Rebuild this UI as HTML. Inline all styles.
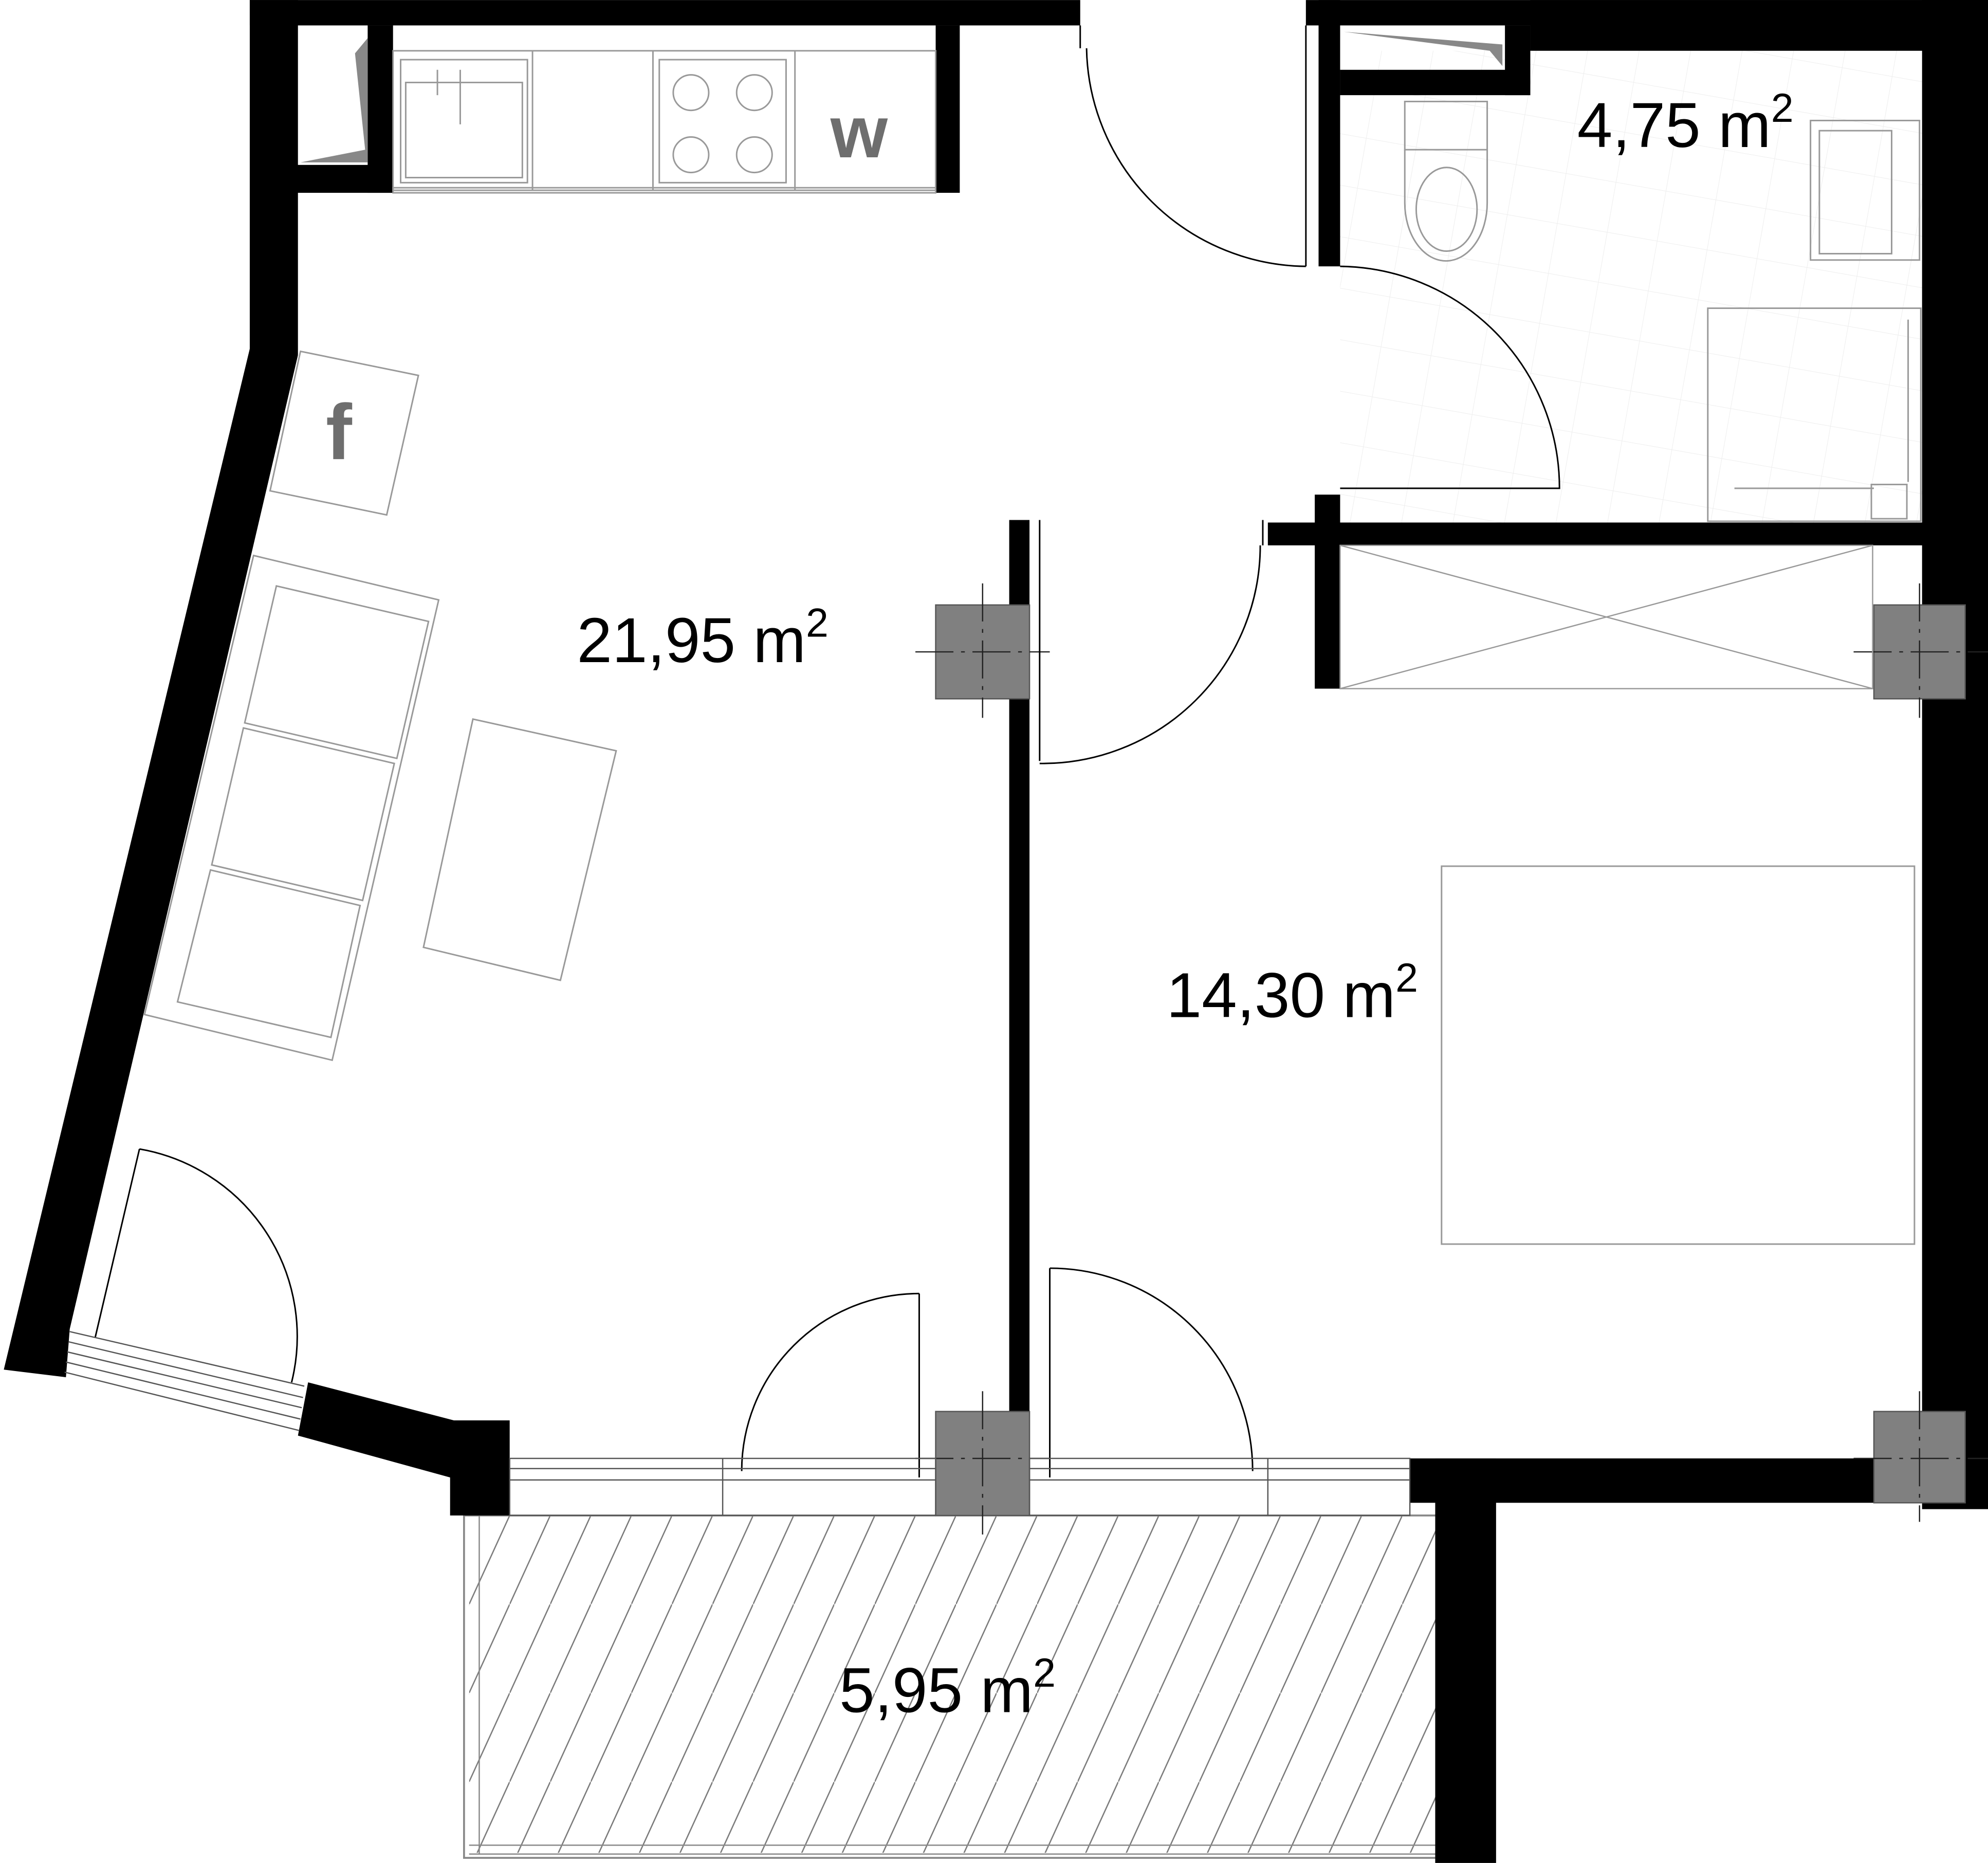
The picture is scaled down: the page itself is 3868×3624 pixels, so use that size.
<!DOCTYPE html>
<html><head><meta charset="utf-8"><style>
html,body{margin:0;padding:0;background:#fff;}
svg{display:block;}
text{font-family:"Liberation Sans",sans-serif;fill:#000;}
</style></head><body>
<svg width="3868" height="3624" viewBox="0 0 1568 1469" xmlns="http://www.w3.org/2000/svg">
<defs>
<pattern id="hatch" patternUnits="userSpaceOnUse" width="32" height="70" patternTransform="translate(370,1195)">
<line x1="0" y1="70" x2="32" y2="0" stroke="#777" stroke-width="1"/>
</pattern>
<pattern id="tile" patternUnits="userSpaceOnUse" width="40" height="40" patternTransform="rotate(10)">
<path d="M0 0H40M0 0V40" stroke="#eee" stroke-width="0.8" fill="none"/>
</pattern>
</defs>
<rect width="1568" height="1469" fill="#fff"/>
<rect x="1057" y="40" width="460" height="372" fill="url(#tile)"/>
<rect x="370" y="1195" width="764" height="266" fill="url(#hatch)"/>
<rect x="366" y="1195" width="768" height="270" fill="none" stroke="#888" stroke-width="1.5"/>
<line x1="378" y1="1195" x2="378" y2="1462" stroke="#888"/>
<line x1="370" y1="1462" x2="1134" y2="1462" stroke="#888"/>
<line x1="370" y1="1455" x2="1134" y2="1455" stroke="#888"/>
<g fill="#000">
<rect x="197" y="0" width="655" height="20"/>
<rect x="197" y="0" width="38" height="280"/>
<rect x="215" y="20" width="18" height="132"/>
<rect x="215" y="130" width="95" height="22"/>
<rect x="290" y="20" width="20" height="132"/>
<rect x="738" y="20" width="19" height="132"/>
<polygon points="197,275 235,280 55,1048 52,1086 3,1080"/>
<polygon points="243,1090 358,1120 402,1120 402,1195 355,1195 355,1165 235,1132"/>
<rect x="1030" y="0" width="538" height="20"/>
<rect x="1207" y="0" width="361" height="40"/>
<rect x="1516" y="0" width="52" height="1190"/>
<rect x="1040" y="0" width="17" height="210"/>
<rect x="1057" y="55" width="150" height="20"/>
<rect x="1187" y="20" width="20" height="55"/>
<rect x="1000" y="412" width="520" height="18"/>
<rect x="1037" y="390" width="20" height="153"/>
<rect x="796" y="410" width="16" height="705"/>
<rect x="1112" y="1150" width="456" height="35"/>
<rect x="1132" y="1150" width="48" height="319"/>
</g>
<polygon points="237,128 288,118 280,42 290,30 290,128" fill="#888"/>
<polygon points="1060,25 1185,35 1185,52 1175,40" fill="#888"/>
<g fill="#808080" stroke="#555">
<rect x="738" y="477" width="74" height="74"/>
<rect x="1478" y="477" width="72" height="74"/>
<rect x="738" y="1113" width="74" height="82"/>
<rect x="1478" y="1113" width="72" height="72"/>
</g>
<g stroke="#222" stroke-width="1" stroke-dasharray="30,6,3,6">
<line x1="722" y1="514" x2="828" y2="514"/><line x1="775" y1="460" x2="775" y2="566"/>
<line x1="1462" y1="514" x2="1568" y2="514"/><line x1="1514" y1="460" x2="1514" y2="566"/>
<line x1="722" y1="1150" x2="828" y2="1150"/><line x1="775" y1="1097" x2="775" y2="1210"/>
<line x1="1462" y1="1150" x2="1568" y2="1150"/><line x1="1514" y1="1097" x2="1514" y2="1200"/>
</g>
<g fill="none" stroke="#999" stroke-width="1.2">
<rect x="310" y="40" width="428" height="110"/>
<rect x="310" y="148" width="428" height="4"/>
<line x1="420" y1="40" x2="420" y2="150"/>
<line x1="515" y1="40" x2="515" y2="150"/>
<line x1="627" y1="40" x2="627" y2="150"/>
<rect x="316" y="47" width="100" height="97"/>
<rect x="320" y="65" width="92" height="75"/>
<rect x="520" y="47" width="100" height="97"/>
<circle cx="545" cy="73" r="14"/><circle cx="595" cy="73" r="14"/>
<circle cx="545" cy="122" r="14"/><circle cx="595" cy="122" r="14"/>
<path d="M345 55V75M363 55V98"/>
</g>
<text x="655" y="124" font-size="58" font-weight="bold" style="fill:#6e6e6e">w</text>
<polygon points="237,277 330,296 305,406 213,387" fill="none" stroke="#999" stroke-width="1.2"/>
<text x="257" y="362" font-size="62" font-weight="bold" style="fill:#6e6e6e">f</text>
<g fill="none" stroke="#999" stroke-width="1.2">
<polygon points="200,438 346,473 262,836 114,800"/>
<polygon points="218,462 338,490 313,598 193,570"/>
<polygon points="192,574 311,602 286,710 167,682"/>
<polygon points="166,686 284,714 261,818 140,790"/>
<polygon points="373,567 486,592 442,773 334,747"/>
</g>
<rect x="1137" y="683" width="373" height="298" fill="none" stroke="#999" stroke-width="1.2"/>
<g fill="none" stroke="#999" stroke-width="1">
<rect x="1057" y="430" width="420" height="113"/>
<line x1="1057" y1="430" x2="1477" y2="543"/><line x1="1057" y1="543" x2="1477" y2="430"/>
</g>
<g fill="none" stroke="#999" stroke-width="1.2">
<rect x="1108" y="80" width="65" height="38"/>
<path d="M1108 118V160A32 45 0 0 0 1173 160V118"/>
<ellipse cx="1141" cy="165" rx="24" ry="33"/>
<rect x="1428" y="95" width="86" height="110"/>
<rect x="1435" y="103" width="57" height="97"/>
<rect x="1347" y="243" width="168" height="168"/>
<path d="M1368 385H1478M1505 252V380"/>
<rect x="1476" y="382" width="28" height="27"/>
</g>
<g fill="none" stroke="#000" stroke-width="1.2">
<line x1="852" y1="20" x2="852" y2="38"/>
<path d="M857 38A175 175 0 0 0 1030 210"/><line x1="1030" y1="20" x2="1030" y2="210"/>
<path d="M1057 210A175 175 0 0 1 1230 385H1057"/>
<line x1="820" y1="410" x2="820" y2="600"/><path d="M820 602A172 172 0 0 0 994 430"/><line x1="996" y1="410" x2="996" y2="430"/>
<line x1="725" y1="1020" x2="725" y2="1165"/><path d="M725 1020A140 140 0 0 0 585 1160"/>
<line x1="828" y1="1000" x2="828" y2="1165"/><path d="M828 1000A160 160 0 0 1 988 1160"/>
<line x1="110" y1="906" x2="75" y2="1055"/><path d="M110 906A150 150 0 0 1 230 1090"/>
</g>
<g fill="none" stroke="#555" stroke-width="1">
<rect x="402" y="1150" width="336" height="45"/>
<line x1="402" y1="1158" x2="738" y2="1158"/><line x1="402" y1="1167" x2="738" y2="1167"/>
<line x1="570" y1="1150" x2="570" y2="1195"/>
<rect x="812" y="1150" width="300" height="45"/>
<line x1="812" y1="1158" x2="1112" y2="1158"/><line x1="812" y1="1167" x2="1112" y2="1167"/>
<line x1="1000" y1="1150" x2="1000" y2="1195"/>
<line x1="55" y1="1050" x2="240" y2="1093"/><line x1="54" y1="1058" x2="239" y2="1102"/>
<line x1="53" y1="1066" x2="238" y2="1110"/><line x1="52" y1="1074" x2="237" y2="1119"/>
<line x1="51" y1="1082" x2="236" y2="1128"/>
</g>
<text x="455" y="522" font-size="50">21,95 m<tspan font-size="32" dy="-20">2</tspan></text>
<text x="920" y="802" font-size="50">14,30 m<tspan font-size="32" dy="-20">2</tspan></text>
<text x="1244" y="116" font-size="50">4,75 m<tspan font-size="32" dy="-20">2</tspan></text>
<text x="662" y="1350" font-size="50">5,95 m<tspan font-size="32" dy="-20">2</tspan></text>
</svg>
</body></html>
